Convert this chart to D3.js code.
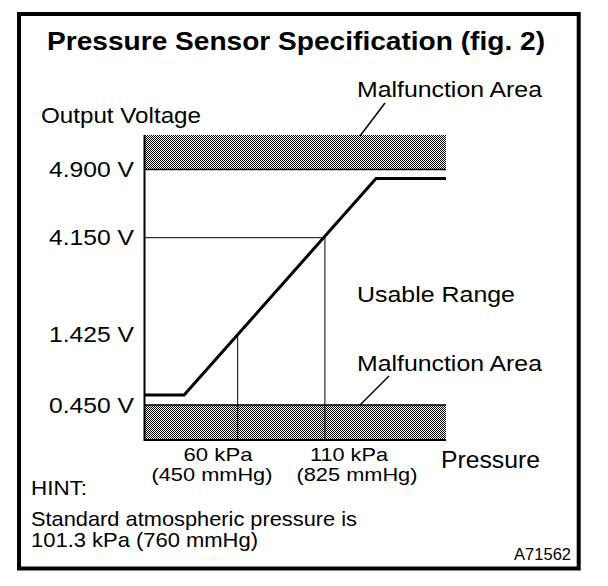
<!DOCTYPE html>
<html><head><meta charset="utf-8">
<script src="https://cdn.jsdelivr.net/npm/d3@7/dist/d3.min.js"></script>
<style>
html,body{margin:0;padding:0;background:#fff;}
svg{display:block;}
text{font-family:"Liberation Sans",Arial,Helvetica,sans-serif;fill:#000;}
</style>
</head><body>
<svg id="chart" width="608" height="586"></svg>
<script>
// ---- data ----
const titleText = "Pressure Sensor Specification (fig. 2)";
const yAxisTitle = "Output Voltage";
const xAxisTitle = "Pressure";
const voltageTicks = [0.450, 1.425, 4.150, 4.900];
const voltageTickLabels = ["0.450 V", "1.425 V", "4.150 V", "4.900 V"];
const pressureTicks = [60, 110];
const pressureTickLabels = ["60 kPa", "110 kPa"];
const pressureTickSubLabels = ["(450 mmHg)", "(825 mmHg)"];
const pressureDomain = [6.6, 179.4];
const voltageDomain = [0, 0.450, 1.425, 4.150, 4.900, 5.000];
const curvePressure = [6.6, 29.3, 139.3, 179.4];
const curveVoltage = [0.588, 0.588, 4.80, 4.80];
const bandHigh = [4.900, 5.000];
const bandLow = [0, 0.450];
const areaLabels = ["Malfunction Area", "Usable Range", "Malfunction Area"];
const hintLines = ["HINT:", "Standard atmospheric pressure is", "101.3 kPa (760 mmHg)"];
const figureCode = "A71562";

// ---- layout ----
const svg = d3.select("#chart");
const x = d3.scaleLinear().domain(pressureDomain).range([144.5, 446]);
const y = d3.scaleLinear().domain(voltageDomain).range([440, 405, 334.4, 237.7, 169.5, 135]);

function label(t, px, py, size, opts = {}) {
  const el = svg.append("text")
    .attr("x", px).attr("y", py)
    .style("font-size", size + "px")
    .style("font-weight", opts.bold ? "bold" : "normal")
    .attr("text-anchor", opts.anchor || "start")
    .text(t);
  if (opts.len) el.attr("textLength", opts.len).attr("lengthAdjust", "spacingAndGlyphs");
  return el;
}

// pattern
const defs = svg.append("defs");
const pat = defs.append("pattern").attr("id", "dither")
  .attr("patternUnits", "userSpaceOnUse").attr("width", 4).attr("height", 4);
pat.append("rect").attr("width", 4).attr("height", 4).attr("fill", "#fff");
[[0,0],[2,0],[1,1],[3,1],[0,2],[2,2],[1,3],[3,3]].forEach(([a,b]) =>
  pat.append("rect").attr("x", a).attr("y", b).attr("width", 1).attr("height", 1)
    .attr("fill", "#000").attr("shape-rendering", "crispEdges"));

// frame
svg.append("rect").attr("x", 19).attr("y", 14).attr("width", 559.7).attr("height", 554.5)
  .attr("fill", "none").attr("stroke", "#000").attr("stroke-width", 4);

// title
label(titleText, 47, 50, 25.5, {bold: true, len: 498});

// bands
[bandHigh, bandLow].forEach(b => {
  svg.append("rect")
    .attr("x", x(pressureDomain[0])).attr("width", x(pressureDomain[1]) - x(pressureDomain[0]))
    .attr("y", y(b[1])).attr("height", y(b[0]) - y(b[1]))
    .attr("fill", "url(#dither)").attr("shape-rendering", "crispEdges");
});
// band boundary lines
[bandHigh[0], bandLow[1]].forEach(v => {
  svg.append("line").attr("x1", x(pressureDomain[0])).attr("x2", x(pressureDomain[1]))
    .attr("y1", y(v)).attr("y2", y(v)).attr("stroke", "#000").attr("stroke-width", 1.5);
});

// reference lines
svg.append("line").attr("x1", x(pressureDomain[0])).attr("x2", x(pressureTicks[1]))
  .attr("y1", y(voltageTicks[2])).attr("y2", y(voltageTicks[2]))
  .attr("stroke", "#000").attr("stroke-width", 1);
pressureTicks.forEach((p, i) => {
  svg.append("line").attr("x1", x(p)).attr("x2", x(p))
    .attr("y1", y(voltageTicks[i + 1])).attr("y2", y(voltageDomain[0]))
    .attr("stroke", "#000").attr("stroke-width", 1);
});

// axes
svg.append("line").attr("x1", x(pressureDomain[0])).attr("x2", x(pressureDomain[0]))
  .attr("y1", y(voltageDomain[voltageDomain.length - 1])).attr("y2", y(voltageDomain[0]) + 1)
  .attr("stroke", "#000").attr("stroke-width", 2);
svg.append("line").attr("x1", x(pressureDomain[0])).attr("x2", x(pressureDomain[1]))
  .attr("y1", y(voltageDomain[0])).attr("y2", y(voltageDomain[0]))
  .attr("stroke", "#000").attr("stroke-width", 2);

// curve
const pts = curvePressure.map((p, i) => [p, curveVoltage[i]]);
svg.append("path").datum(pts)
  .attr("d", d3.line().x(d => x(d[0])).y(d => y(d[1])))
  .attr("fill", "none").attr("stroke", "#000").attr("stroke-width", 3)
  .attr("stroke-linejoin", "miter");

// leaders
svg.append("line").attr("x1", 385).attr("y1", 103).attr("x2", 360).attr("y2", y(bandHigh[1]) + 1)
  .attr("stroke", "#000").attr("stroke-width", 1.5);
svg.append("line").attr("x1", 389).attr("y1", 376).attr("x2", 360).attr("y2", y(bandLow[1]))
  .attr("stroke", "#000").attr("stroke-width", 1.5);

// y tick labels
voltageTicks.forEach((v, i) => {
  label(voltageTickLabels[i], 134, y(v) + 7.5, 22, {anchor: "end", len: 85});
});

// x tick labels
const kpaCenters = [218, 349];
const kpaWidths = [69, 78];
const mmCenters = [212, 357];
pressureTickLabels.forEach((t, i) => {
  label(t, kpaCenters[i], 460.5, 18.5, {anchor: "middle", len: kpaWidths[i]});
  label(pressureTickSubLabels[i], mmCenters[i], 481, 18.5, {anchor: "middle", len: 121});
});

// axis titles
label(yAxisTitle, 41, 123, 22, {len: 160});
label(xAxisTitle, 441, 468, 24, {len: 99});

// area labels
label(areaLabels[0], 357, 97, 22, {len: 185});
label(areaLabels[1], 357, 302, 22, {len: 158});
label(areaLabels[2], 357, 371, 22, {len: 185});

// hint
label(hintLines[0], 31, 495, 20, {len: 56});
label(hintLines[1], 31, 526, 21, {len: 326});
label(hintLines[2], 31, 547, 21, {len: 227});

// figure code
label(figureCode, 571, 560, 16.5, {anchor: "end"});
</script>
</body></html>
